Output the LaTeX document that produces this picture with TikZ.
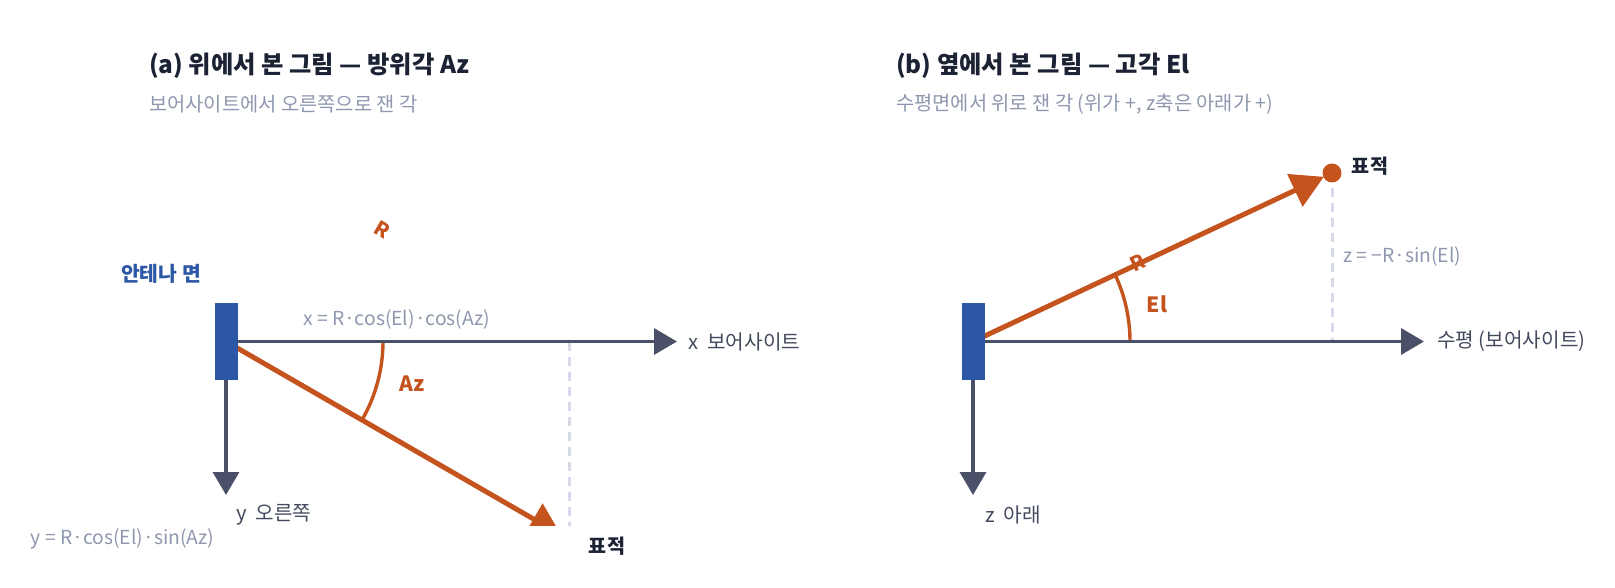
\documentclass[tikz,border=0pt]{standalone}
\usepackage{fontspec}
\setmainfont{Noto Sans CJK KR}
\usetikzlibrary{arrows.meta, positioning}
\definecolor{axisgray}{HTML}{4A5068}
\definecolor{rust}{HTML}{C4531D}
\definecolor{antblue}{HTML}{2B57A6}
\definecolor{inkdark}{HTML}{1B2233}
\definecolor{softgray}{HTML}{8E97AE}
\definecolor{labelgray}{HTML}{434A5E}
\definecolor{guidegray}{HTML}{D6D9E8}
\tikzstyle{paneltitle} = [font=\fontsize{24.3}{28}\selectfont\bfseries, text=inkdark, anchor=west, inner sep=0pt]
\tikzstyle{subtitle} = [font=\fontsize{19.8}{23}\selectfont, text=softgray, anchor=west, inner sep=0pt]
\tikzstyle{antenna} = [fill=antblue, minimum width=23pt, minimum height=77pt, inner sep=0pt]
\tikzstyle{axis} = [draw=axisgray, line width=3.5pt, -{Triangle[length=23pt,width=26pt]}]
\tikzstyle{ray} = [draw=rust, line width=5pt, -{Triangle[length=32pt,width=35pt]}, shorten >=9pt]
\tikzstyle{anglearc} = [draw=rust, line width=3.4pt]
\tikzstyle{guide} = [draw=guidegray, line width=3pt, dash pattern=on 9pt off 6pt]
\tikzstyle{axislabel} = [font=\fontsize{20.2}{24}\selectfont, text=labelgray, anchor=west, inner sep=0pt]
\tikzstyle{formula} = [font=\fontsize{19.3}{23}\selectfont, text=softgray, inner sep=0pt]
\tikzstyle{anglelabel} = [font=\fontsize{21}{25}\selectfont\bfseries, text=rust, inner sep=0pt]
\tikzstyle{rlabel} = [font=\fontsize{20}{23}\selectfont\bfseries, text=rust, inner sep=0pt]
\tikzstyle{target} = [font=\fontsize{19.6}{23}\selectfont\bfseries, text=inkdark, inner sep=0pt]

\begin{document}
\begin{tikzpicture}[x=1pt, y=-1pt]
	\useasboundingbox (0,0) rectangle (1615,588);
	% (a) top view
	\node[paneltitle] (titleA) at (149,66) {(a) 위에서 본 그림 — 방위각 Az};
	\node[subtitle] (subA) at (149,104) {보어사이트에서 오른쪽으로 잰 각};
	\coordinate (oA) at (226,341.5);
	\coordinate (tgtA) at (569,539.5);
	\coordinate (footA) at (569,341.5);
	\coordinate (xtipA) at (677,341.5);
	\coordinate (ytipA) at (226,495);
	\node[rlabel, rotate=-30] (rA) at (382,230) {R};
	\begin{scope}
		\clip (0,0) rectangle (1615,525);
		\draw[guide] (footA) -- (tgtA);
		\draw[ray] (oA) -- (tgtA);
		\fill[rust] (tgtA) circle (9);
		\draw[anglearc] (oA) ++(0:157) arc[start angle=0, end angle=30, radius=157];
		\node[antenna] (antA) at (oA) {};
		\draw[axis] (antA.east) -- (xtipA);
		\draw[axis] (antA.south) -- (ytipA);
	\end{scope}
	\node[font=\fontsize{20.4}{24}\selectfont\bfseries, text=antblue, inner sep=0pt] (antlabelA) at (161,274) {안테나 면};
	\node[formula] (fxA) at (396.5,319) {x = R·cos(El)·cos(Az)};
	\node[axislabel] (xlabA) at (688,341.5) {x\ \ 보어사이트};
	\node[anglelabel] (azA) at (412,384) {Az};
	\node[axislabel] (ylabA) at (236,515) {y\ \ 오른쪽};
	\node[formula] (fyA) at (122.5,539) {y = R·cos(El)·sin(Az)};
	\node[target] (tgtlabA) at (607,546) {표적};

	% (b) side view
	\node[paneltitle] (titleB) at (896,66) {(b) 옆에서 본 그림 — 고각 El};
	\node[subtitle] (subB) at (896,104) {수평면에서 위로 잰 각 (위가 +, z축은 아래가 +)};
	\coordinate (oB) at (973,341.5);
	\coordinate (tgtB) at (1332,173);
	\coordinate (footB) at (1332,341.5);
	\coordinate (xtipB) at (1424,341.5);
	\coordinate (ztipB) at (973,495);
	\draw[guide] (tgtB) -- (footB);
	\node[rlabel, rotate=25] (rB) at (1138,263) {R};
	\draw[ray] (oB) -- (tgtB);
	\fill[rust] (tgtB) circle (9.5);
	\draw[anglearc] (oB) ++(0:157) arc[start angle=0, end angle=-25, radius=157];
	\node[antenna] (antB) at (oB) {};
	\draw[axis] (antB.east) -- (xtipB);
	\draw[axis] (antB.south) -- (ztipB);
	\node[axislabel] (xlabB) at (1437,341.5) {수평 (보어사이트)};
	\node[anglelabel] (elB) at (1157,304) {El};
	\node[formula, anchor=west] (fzB) at (1343,256) {z = −R·sin(El)};
	\node[axislabel] (zlabB) at (985,515) {z\ \ 아래};
	\node[target] (tgtlabB) at (1370,166) {표적};
\end{tikzpicture}
\end{document}
